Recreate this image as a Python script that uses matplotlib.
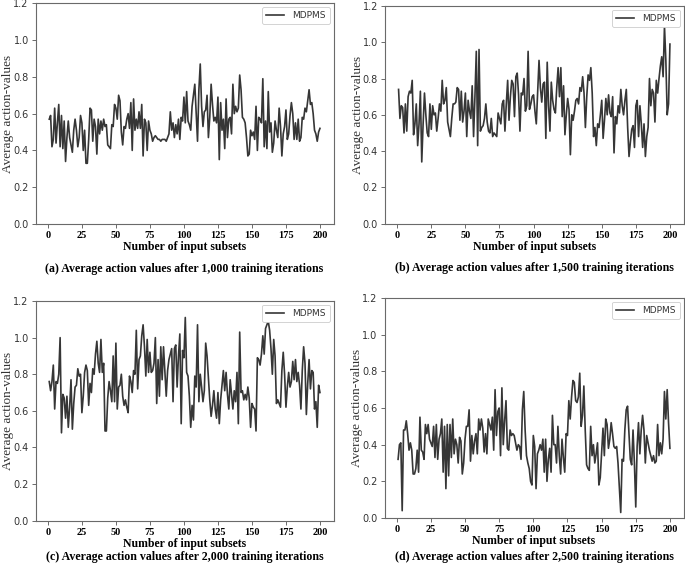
import matplotlib
matplotlib.use("Agg")
import matplotlib.pyplot as plt
import numpy as np

# ---------------- data ----------------
subsets = np.arange(1, 201)

values_1000 = [
    0.57, 0.59, 0.42, 0.46, 0.63, 0.44, 0.55, 0.65, 0.42, 0.59,
    0.41, 0.56, 0.34, 0.47, 0.56, 0.47, 0.43, 0.39, 0.51, 0.57,
    0.51, 0.42, 0.47, 0.59, 0.55, 0.40, 0.51, 0.33, 0.33, 0.46,
    0.63, 0.62, 0.45, 0.57, 0.53, 0.38, 0.57, 0.49, 0.56, 0.51,
    0.57, 0.53, 0.54, 0.43, 0.42, 0.41, 0.54, 0.53, 0.65, 0.63,
    0.57, 0.70, 0.67, 0.50, 0.43, 0.53, 0.52, 0.57, 0.60, 0.52,
    0.66, 0.40, 0.68, 0.51, 0.57, 0.52, 0.61, 0.52, 0.65, 0.37,
    0.57, 0.55, 0.40, 0.56, 0.51, 0.49, 0.45, 0.47, 0.48, 0.47,
    0.46, 0.46, 0.45, 0.46, 0.46, 0.46, 0.45, 0.47, 0.49, 0.61,
    0.51, 0.55, 0.47, 0.54, 0.49, 0.57, 0.46, 0.58, 0.56, 0.69,
    0.55, 0.72, 0.56, 0.54, 0.51, 0.64, 0.70, 0.76, 0.61, 0.45,
    0.73, 0.87, 0.64, 0.53, 0.61, 0.62, 0.70, 0.47, 0.58, 0.76,
    0.65, 0.56, 0.58, 0.55, 0.69, 0.35, 0.66, 0.51, 0.57, 0.41,
    0.68, 0.47, 0.57, 0.58, 0.49, 0.76, 0.60, 0.64, 0.61, 0.63,
    0.81, 0.73, 0.58, 0.57, 0.55, 0.47, 0.37, 0.38, 0.51, 0.48,
    0.50, 0.46, 0.64, 0.40, 0.58, 0.57, 0.55, 0.79, 0.42, 0.56,
    0.41, 0.72, 0.50, 0.55, 0.39, 0.44, 0.56, 0.51, 0.47, 0.63,
    0.53, 0.37, 0.49, 0.53, 0.62, 0.46, 0.49, 0.59, 0.66, 0.60,
    0.46, 0.55, 0.46, 0.57, 0.45, 0.47, 0.58, 0.57, 0.63, 0.61,
    0.67, 0.73, 0.65, 0.66, 0.60, 0.51, 0.49, 0.45, 0.50, 0.52,
]

values_1500 = [
    0.74, 0.58, 0.65, 0.64, 0.50, 0.66, 0.51, 0.70, 0.73, 0.72,
    0.79, 0.49, 0.55, 0.66, 0.43, 0.55, 0.73, 0.34, 0.55, 0.72,
    0.60, 0.50, 0.48, 0.66, 0.52, 0.65, 0.60, 0.61, 0.51, 0.58,
    0.66, 0.62, 0.79, 0.66, 0.68, 0.75, 0.56, 0.52, 0.48, 0.58,
    0.66, 0.66, 0.67, 0.75, 0.74, 0.57, 0.73, 0.56, 0.62, 0.72,
    0.48, 0.68, 0.62, 0.58, 0.76, 0.48, 0.70, 0.95, 0.43, 0.96,
    0.51, 0.53, 0.54, 0.58, 0.66, 0.56, 0.51, 0.50, 0.58, 0.48,
    0.50, 0.49, 0.48, 0.61, 0.58, 0.55, 0.66, 0.68, 0.51, 0.66,
    0.79, 0.57, 0.70, 0.79, 0.77, 0.59, 0.81, 0.83, 0.71, 0.51,
    0.72, 0.71, 0.80, 0.62, 0.65, 0.95, 0.63, 0.66, 0.70, 0.71,
    0.62, 0.55, 0.72, 0.90, 0.75, 0.67, 0.77, 0.78, 0.47, 0.89,
    0.65, 0.51, 0.78, 0.68, 0.63, 0.61, 0.75, 0.86, 0.70, 0.86,
    0.59, 0.76, 0.49, 0.60, 0.69, 0.63, 0.38, 0.60, 0.57, 0.62,
    0.68, 0.69, 0.66, 0.75, 0.73, 0.81, 0.72, 0.53, 0.70, 0.82,
    0.79, 0.86, 0.72, 0.48, 0.53, 0.43, 0.55, 0.53, 0.60, 0.68,
    0.47, 0.57, 0.69, 0.60, 0.71, 0.61, 0.59, 0.70, 0.39, 0.59,
    0.55, 0.65, 0.61, 0.74, 0.65, 0.60, 0.68, 0.74, 0.53, 0.37,
    0.45, 0.52, 0.54, 0.42, 0.65, 0.68, 0.48, 0.65, 0.55, 0.42,
    0.55, 0.37, 0.48, 0.53, 0.80, 0.65, 0.74, 0.72, 0.56, 0.79,
    0.72, 0.80, 0.87, 0.92, 0.81, 1.09, 0.90, 0.60, 0.66, 0.99,
]

values_2000 = [
    0.76, 0.71, 0.76, 0.85, 0.61, 0.76, 0.75, 0.80, 1.00, 0.48,
    0.69, 0.67, 0.56, 0.68, 0.51, 0.62, 0.77, 0.50, 0.64, 0.73,
    0.74, 0.83, 0.79, 0.80, 0.59, 0.68, 0.81, 0.85, 0.82, 0.63,
    0.75, 0.70, 0.83, 0.80, 0.91, 0.98, 0.86, 0.81, 0.99, 0.81,
    0.86, 0.49, 0.49, 0.67, 0.76, 0.71, 0.65, 0.90, 0.65, 0.97,
    0.61, 0.73, 0.74, 0.80, 0.68, 0.63, 0.66, 0.62, 0.59, 0.79,
    0.76, 0.70, 0.82, 0.80, 1.04, 0.72, 0.88, 0.90, 1.01, 1.07,
    0.95, 0.79, 0.99, 0.81, 0.92, 0.81, 0.82, 0.86, 1.00, 0.64,
    0.88, 0.68, 0.95, 0.77, 0.95, 0.81, 0.68, 0.82, 0.88, 0.91,
    0.94, 0.65, 0.94, 0.96, 0.73, 0.90, 1.02, 0.53, 0.93, 0.89,
    1.11, 0.81, 0.79, 0.68, 0.51, 0.63, 0.55, 0.79, 0.73, 1.07,
    0.65, 0.80, 0.73, 0.65, 0.71, 0.97, 0.90, 0.78, 0.66, 0.57,
    0.63, 0.71, 0.61, 0.56, 0.70, 0.53, 0.66, 0.74, 0.82, 0.71,
    0.81, 0.69, 0.61, 0.77, 0.69, 0.61, 0.71, 0.65, 0.81, 0.53,
    1.03, 0.70, 0.71, 0.66, 0.69, 0.66, 0.73, 0.67, 0.51, 0.64,
    0.62, 0.61, 0.49, 0.89, 0.88, 0.85, 0.91, 1.01, 0.91, 1.05,
    1.07, 1.09, 1.04, 0.94, 0.80, 0.99, 0.90, 0.64, 0.66, 0.64,
    0.62, 0.82, 0.92, 0.80, 0.62, 0.73, 0.81, 0.73, 0.76, 0.87,
    0.77, 0.88, 0.76, 0.81, 0.74, 0.61, 0.82, 0.95, 0.86, 0.58,
    0.75, 0.88, 0.72, 0.82, 0.81, 0.61, 0.65, 0.51, 0.74, 0.70,
]

values_2500 = [
    0.32, 0.40, 0.41, 0.04, 0.48, 0.48, 0.53, 0.46, 0.37, 0.41,
    0.37, 0.24, 0.24, 0.27, 0.37, 0.25, 0.55, 0.37, 0.36, 0.32,
    0.51, 0.46, 0.51, 0.43, 0.41, 0.39, 0.50, 0.33, 0.51, 0.32,
    0.43, 0.46, 0.54, 0.25, 0.50, 0.16, 0.51, 0.23, 0.51, 0.33,
    0.54, 0.35, 0.43, 0.40, 0.30, 0.44, 0.42, 0.24, 0.30, 0.43,
    0.50, 0.50, 0.59, 0.31, 0.45, 0.35, 0.42, 0.46, 0.35, 0.54,
    0.48, 0.54, 0.49, 0.36, 0.46, 0.35, 0.54, 0.51, 0.48, 0.55,
    0.37, 0.70, 0.45, 0.58, 0.60, 0.34, 0.71, 0.40, 0.53, 0.64,
    0.38, 0.37, 0.48, 0.45, 0.46, 0.45, 0.41, 0.37, 0.40, 0.39,
    0.32, 0.59, 0.69, 0.48, 0.34, 0.30, 0.27, 0.20, 0.18, 0.45,
    0.39, 0.16, 0.35, 0.37, 0.40, 0.37, 0.43, 0.25, 0.43, 0.20,
    0.32, 0.38, 0.25, 0.56, 0.40, 0.40, 0.30, 0.50, 0.34, 0.24,
    0.43, 0.33, 0.25, 0.46, 0.45, 0.64, 0.54, 0.66, 0.75, 0.74,
    0.64, 0.63, 0.66, 0.79, 0.50, 0.56, 0.72, 0.48, 0.29, 0.27,
    0.26, 0.50, 0.34, 0.40, 0.30, 0.35, 0.41, 0.18, 0.22, 0.36,
    0.49, 0.34, 0.54, 0.51, 0.38, 0.43, 0.52, 0.46, 0.39, 0.38,
    0.39, 0.30, 0.16, 0.03, 0.32, 0.31, 0.48, 0.59, 0.61, 0.46,
    0.32, 0.29, 0.48, 0.30, 0.06, 0.39, 0.52, 0.35, 0.48, 0.56,
    0.48, 0.30, 0.45, 0.41, 0.37, 0.34, 0.31, 0.34, 0.30, 0.31,
    0.51, 0.34, 0.41, 0.35, 0.43, 0.69, 0.54, 0.70, 0.52, 0.38,
]

captions = [
    "(a) Average action values after 1,000 training iterations",
    "(b) Average action values after 1,500 training iterations",
    "(c) Average action values after 2,000 training iterations",
    "(d) Average action values after 2,500 training iterations",
]
series_label = "MDPMS"
x_ticks = [0, 25, 50, 75, 100, 125, 150, 175, 200]
y_ticks = [0.0, 0.2, 0.4, 0.6, 0.8, 1.0, 1.2]
x_title = "Number of input subsets"
y_title = "Average action-values"

# ---------------- layout (pixels) ----------------
W, H = 685, 566
fig = plt.figure(figsize=(W / 100, H / 100), dpi=100)
fig.patch.set_facecolor("white")

# left, top, right, bottom in pixels; caption y center; ylabel x center
boxes = [
    (35.7, 3.3, 333.5, 224.0, 269, 8.5),
    (385.0, 6.0, 683.5, 223.6, 268, 357.5),
    (35.7, 301.0, 333.5, 520.7, 557, 8.5),
    (384.5, 298.0, 683.5, 518.0, 557, 357.0),
]
all_values = [values_1000, values_1500, values_2000, values_2500]

SERIF = "Liberation Serif"
spine_col = "#6a6a6a"

for (l, t, r, b, cy, ylx), vals, cap in zip(boxes, all_values, captions):
    ax = fig.add_axes([l / W, 1 - b / H, (r - l) / W, (b - t) / H])
    ax.plot(subsets, vals, color="#363636", lw=1.2, label=series_label)
    ax.set_ylim(0, 1.2)
    ax.set_xlim(-8.95, 209.95)
    ax.set_xticks(x_ticks)
    ax.set_yticks(y_ticks)
    ax.set_yticklabels([f"{v:.1f}" for v in y_ticks], fontsize=7,
                       family="DejaVu Sans", color="#333333")
    ax.set_xticklabels([str(v) for v in x_ticks], fontsize=7.5,
                       family=SERIF, fontweight="bold")
    ax.tick_params(axis="both", length=3, width=0.7, color=spine_col, pad=2)
    for s in ax.spines.values():
        s.set_color(spine_col)
        s.set_linewidth(0.8)
    ax.set_xlabel(x_title, family=SERIF, fontweight="bold", fontsize=8.5,
                  labelpad=1)
    ax.set_ylabel(y_title, family=SERIF, fontsize=9.5, color="#333333",
                  va="center")
    ax.yaxis.set_label_coords((ylx - l) / (r - l), 0.5)
    leg = ax.legend(loc="upper right", fontsize=6.5, handlelength=2.0,
                    borderpad=0.45, handletextpad=0.9, borderaxespad=0.4,
                    fancybox=True, framealpha=1.0)
    leg.get_frame().set_edgecolor("#cccccc")
    leg.get_frame().set_linewidth(0.6)
    for txt in leg.get_texts():
        txt.set_color("#333333")
    fig.text(((l + r) / 2) / W, 1 - cy / H, cap, ha="center", va="center",
             family=SERIF, fontweight="bold", fontsize=8.6)

fig.savefig("out.png", dpi=100, facecolor="white")
